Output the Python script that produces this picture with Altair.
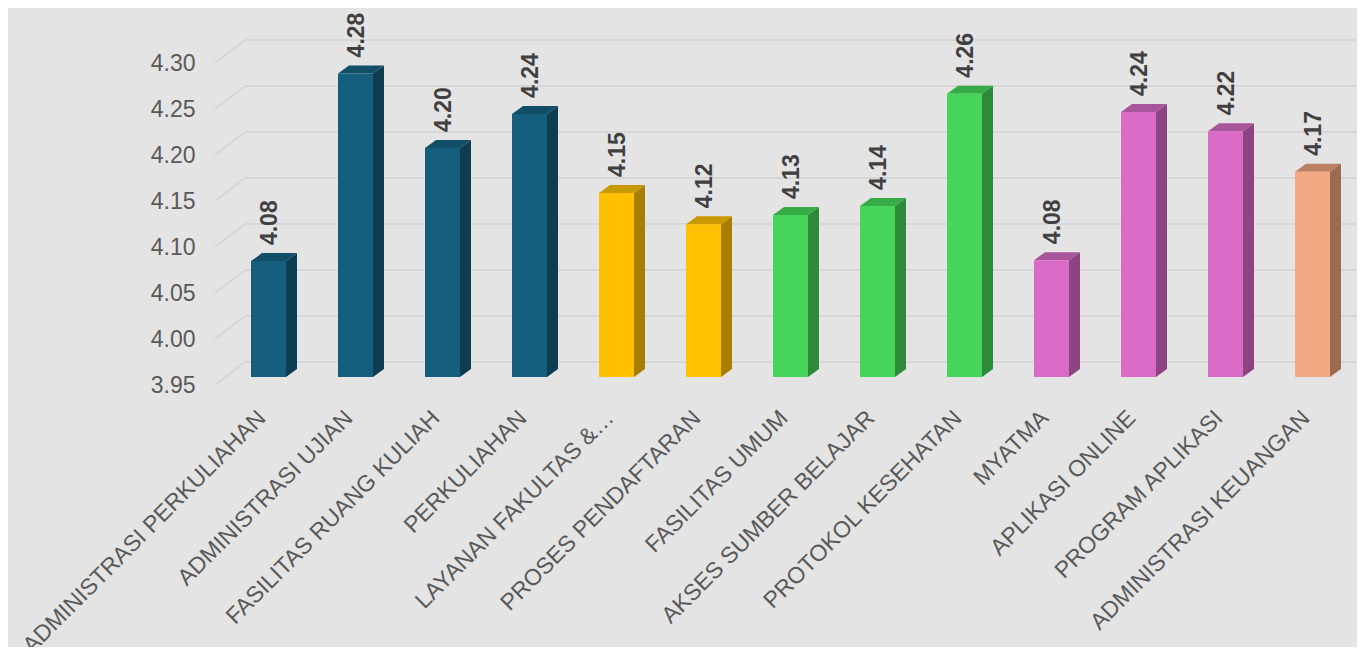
import altair as alt
import pandas as pd

# ---- data ----
categories = [
    "ADMINISTRASI PERKULIAHAN", "ADMINISTRASI UJIAN", "FASILITAS RUANG KULIAH",
    "PERKULIAHAN", "LAYANAN FAKULTAS &…", "PROSES PENDAFTARAN",
    "FASILITAS UMUM", "AKSES SUMBER BELAJAR", "PROTOKOL KESEHATAN",
    "MYATMA", "APLIKASI ONLINE", "PROGRAM APLIKASI", "ADMINISTRASI KEUANGAN",
]
values = [4.076, 4.280, 4.199, 4.236, 4.150, 4.116, 4.126, 4.136, 4.258,
          4.077, 4.238, 4.217, 4.173]
groups = ["A", "A", "A", "A", "B", "B", "C", "C", "C", "D", "D", "D", "E"]
y_ticks = [3.95, 4.00, 4.05, 4.10, 4.15, 4.20, 4.25, 4.30]

# ---- styling ----
GROUPS = ["A", "B", "C", "D", "E"]
FRONT = ["#155E7D", "#FFC000", "#47D45A", "#DA6CC8", "#F3AA84"]
SIDE = ["#0E3D52", "#A87E00", "#2D8A3A", "#8C4580", "#9C6A50"]
TOP = ["#114E68", "#C99A00", "#36AB46", "#A9559C", "#BA8060"]
BG = "#E4E4E4"
GRID = "#D6D6D6"
FONT = "Liberation Sans"

N = len(categories)
STEP = 87.0
W = STEP * N
H = 322.0
BASE = y_ticks[0]
YMAX = y_ticks[-1]
PX_Y = H / (YMAX - BASE)
FX = 17.5 / STEP          # half front width in x units
DX = 11.0 / STEP          # depth in x units
DY = 8.0 / PX_Y           # depth in y units

front_rows, side_rows, top_rows, lab_rows = [], [], [], []
for i, (c, v, g) in enumerate(zip(categories, values, groups)):
    cx = i + 0.5
    front_rows.append(dict(bar=i, g=g, x=cx - FX, x2=cx + FX, y=v, y2=BASE))
    side_rows += [
        dict(bar=i, g=g, x=cx + FX, y=v, y2=BASE),
        dict(bar=i, g=g, x=cx + FX + DX, y=v + DY, y2=BASE + DY),
    ]
    top_rows += [
        dict(bar=i, g=g, x=cx - FX, y=v, y2=v),
        dict(bar=i, g=g, x=cx - FX + DX, y=v + DY, y2=v),
        dict(bar=i, g=g, x=cx + FX, y=v + DY, y2=v),
        dict(bar=i, g=g, x=cx + FX + DX, y=v + DY, y2=v + DY),
    ]
    lab_rows.append(dict(x=cx, y=v))

df_front = pd.DataFrame(front_rows)
df_side = pd.DataFrame(side_rows)
df_top = pd.DataFrame(top_rows)
df_lab = pd.DataFrame(lab_rows)
df_grid = pd.DataFrame({"y": y_ticks})

xscale = alt.Scale(domain=[0, N], nice=False, zero=False)
yscale = alt.Scale(domain=[BASE, YMAX], nice=False, zero=False)

label_list = "[" + ",".join("'" + c + "'" for c in categories) + "]"

yaxis = alt.Axis(values=y_ticks, format=".2f", grid=False, domain=False, ticks=False,
                 labelPadding=30, labelOffset=8, labelFontSize=23, labelFont=FONT,
                 labelColor="#595959", labelFlush=False, labelOverlap=False, title=None)
xaxis = alt.Axis(values=[i + 0.5 for i in range(N)], labelExpr=label_list + "[floor(datum.value)]",
                 grid=False, domain=False, ticks=False, labelAngle=-45, labelAlign="right",
                 labelBaseline="middle", labelPadding=37, labelOffset=-7, labelFontSize=23,
                 labelFont=FONT, labelColor="#595959", labelFlush=False, labelOverlap=False,
                 labelLimit=1000, title=None)

X = alt.X("x:Q", scale=xscale, axis=xaxis)
Y = alt.Y("y:Q", scale=yscale, axis=yaxis, stack=None)

grid_diag = alt.Chart(df_grid).mark_rule(color=GRID, strokeWidth=2, yOffset=8, y2Offset=-15).encode(
    x=alt.value(-10), x2=alt.value(20), y=Y, y2="y:Q")
grid_h = alt.Chart(df_grid).mark_rule(color=GRID, strokeWidth=2, yOffset=-15).encode(
    x=alt.value(20), x2=alt.value(W + 12), y=Y)

side = alt.Chart(df_side).mark_area(opacity=1).encode(
    x=X, y=Y, y2="y2:Q", detail="bar:N",
    color=alt.Color("g:N", scale=alt.Scale(domain=GROUPS, range=SIDE), legend=None))
top = alt.Chart(df_top).mark_area(opacity=1).encode(
    x=X, y=Y, y2="y2:Q", detail="bar:N",
    color=alt.Color("g:N", scale=alt.Scale(domain=GROUPS, range=TOP), legend=None))
front = alt.Chart(df_front).mark_rect().encode(
    x=X, x2="x2:Q", y=Y, y2="y2:Q",
    color=alt.Color("g:N", scale=alt.Scale(domain=GROUPS, range=FRONT), legend=None))
labels = alt.Chart(df_lab).mark_text(angle=270, align="left", baseline="middle", fontSize=23,
                                     fontWeight="bold", font=FONT, color="#404040",
                                     yOffset=-16, xOffset=1).encode(
    x=X, y=Y, text=alt.Text("y:Q", format=".2f"))

chart = alt.layer(grid_diag, grid_h, side, top, front, labels).resolve_scale(
    color="independent"
).properties(
    width=W, height=H, autosize="none",
    padding={"left": 217, "top": 47, "right": 1, "bottom": 270},
    background=BG,
).configure_view(stroke=None)

chart.save("out.html", embed_options={"renderer": "svg", "actions": False})
